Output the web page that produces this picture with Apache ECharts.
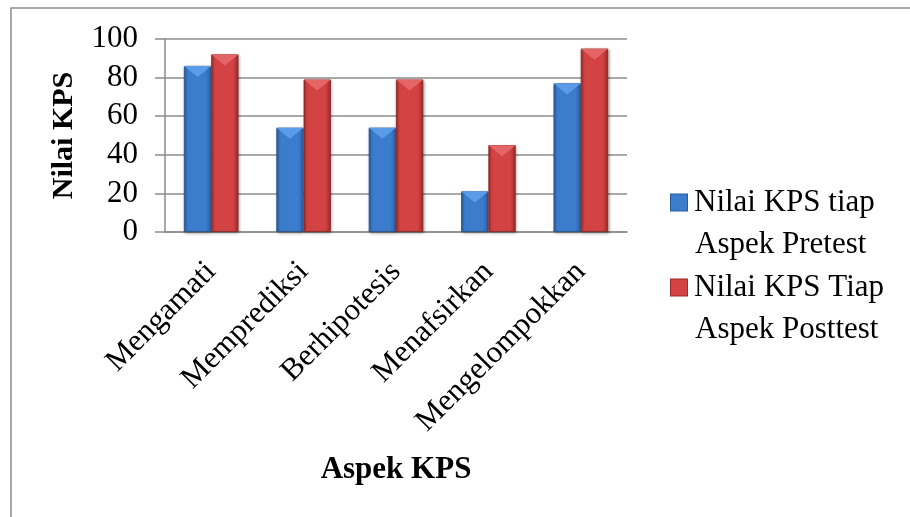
<!DOCTYPE html>
<html>
<head>
<meta charset="utf-8">
<script src="https://cdn.jsdelivr.net/npm/echarts@6/dist/echarts.min.js"></script>
<style>
  html, body { margin: 0; padding: 0; background: #fff; }
  #chart { width: 910px; height: 517px; }
</style>
</head>
<body>
<div id="chart"></div>
<script>
// Aspects of science process skills (KPS) and their scores
var categories = ['Mengamati', 'Memprediksi', 'Berhipotesis', 'Menafsirkan', 'Mengelompokkan'];
var pretestValues = [86, 54, 54, 21, 77];
var posttestValues = [92, 79, 79, 45, 95];
var seriesNames = ['Nilai KPS tiap Aspek Pretest', 'Nilai KPS Tiap Aspek Posttest'];
var yTicks = [0, 20, 40, 60, 80, 100];

var FONT = '"Liberation Serif", "Times New Roman", serif';

function bodyGradient(edgeL, mid, edgeR) {
  return new echarts.graphic.LinearGradient(0, 0, 1, 0, [
    { offset: 0, color: edgeL },
    { offset: 0.12, color: mid },
    { offset: 0.8, color: mid },
    { offset: 1, color: edgeR }
  ]);
}

var blueBody = bodyGradient('#2a5a9a', '#3b7ccd', '#2c60a6');
var redBody = bodyGradient('#9e2b2b', '#d34343', '#a02a2a');

var BAR_GAP = '0%';
var CAT_GAP = '41%';

// two-line legend entry with a square swatch beside the first line
function legendLabel(name) {
  var key = name === seriesNames[0] ? 'ib' : 'ir';
  var words = name.split(' ');
  return '{' + key + '|}{sp|}{t|' + words.slice(0, 3).join(' ') + '}\n{ind|}{t|' + words.slice(3).join(' ') + '}';
}

var chart = echarts.init(document.getElementById('chart'), null, { renderer: 'canvas' });

chart.setOption({
  animation: false,
  backgroundColor: '#ffffff',
  graphic: [{
    type: 'rect',
    shape: { x: 11, y: 8, width: 1000, height: 1000 },
    style: { fill: 'none', stroke: '#8c8c8c', lineWidth: 1.5 },
    silent: true,
    z: -10
  }],
  grid: { left: 165, right: 283, top: 39, bottom: 285, containLabel: false },
  legend: {
    orient: 'vertical',
    left: 661,
    top: 182,
    icon: 'none',
    itemWidth: 0,
    itemHeight: 0,
    itemGap: 12,
    selectedMode: false,
    data: seriesNames,
    formatter: legendLabel,
    textStyle: {
      fontFamily: FONT,
      fontSize: 31,
      color: '#000',
      rich: {
        ib: { width: 16, height: 16, backgroundColor: '#3b7ccd', borderColor: '#2a5a9a', borderWidth: 1 },
        ir: { width: 16, height: 16, backgroundColor: '#d34343', borderColor: '#9e2b2b', borderWidth: 1 },
        sp: { width: 7 },
        ind: { width: 24 },
        t: { fontFamily: FONT, fontSize: 31, color: '#000', lineHeight: 42 }
      }
    }
  },
  xAxis: {
    type: 'category',
    data: categories,
    name: 'Aspek KPS',
    nameLocation: 'middle',
    nameGap: 222,
    nameTextStyle: { fontFamily: FONT, fontSize: 31, fontWeight: 'bold', color: '#000' },
    axisLine: { show: true, lineStyle: { color: '#8c8c8c', width: 1.5 } },
    axisTick: { show: false },
    axisLabel: {
      rotate: 45,
      margin: 35,
      interval: 0,
      fontFamily: FONT,
      fontSize: 31,
      color: '#000'
    }
  },
  yAxis: {
    type: 'value',
    min: 0,
    max: 100,
    interval: 20,
    name: 'Nilai KPS',
    nameLocation: 'middle',
    nameGap: 86,
    nameRotate: 90,
    nameTextStyle: { fontFamily: FONT, fontSize: 30, fontWeight: 'bold', color: '#000' },
    axisLine: { show: true, lineStyle: { color: '#8c8c8c', width: 1.5 } },
    axisTick: { show: true, inside: false, length: 10, lineStyle: { color: '#8c8c8c', width: 1.5 } },
    axisLabel: {
      margin: 27,
      fontFamily: FONT,
      fontSize: 31,
      color: '#000',
      formatter: function (v) { return yTicks.indexOf(v) >= 0 ? String(v) : ''; }
    },
    splitLine: { show: true, lineStyle: { color: '#8c8c8c', width: 1.5 } }
  },
  series: [
    {
      name: seriesNames[0],
      type: 'bar',
      data: pretestValues,
      barGap: BAR_GAP,
      barCategoryGap: CAT_GAP,
      z: 2,
      itemStyle: {
        color: blueBody,
        borderColor: '#24508a',
        borderWidth: 0.8,
        shadowColor: 'rgba(0,0,0,0.35)',
        shadowBlur: 3,
        shadowOffsetX: 1,
        shadowOffsetY: 1
      }
    },
    {
      name: seriesNames[1],
      type: 'bar',
      data: posttestValues,
      barGap: BAR_GAP,
      barCategoryGap: CAT_GAP,
      z: 2,
      itemStyle: {
        color: redBody,
        borderColor: '#8a2222',
        borderWidth: 0.8,
        shadowColor: 'rgba(0,0,0,0.35)',
        shadowBlur: 3,
        shadowOffsetX: 1,
        shadowOffsetY: 1
      }
    },
    // bevelled caps on top of each bar
    {
      name: seriesNames[0],
      type: 'pictorialBar',
      data: pretestValues,
      barGap: BAR_GAP,
      barCategoryGap: CAT_GAP,
      symbol: 'path://M0,0L2,0L1,1Z',
      symbolSize: ['100%', 11],
      symbolPosition: 'end',
      symbolKeepAspect: false,
      silent: true,
      z: 5,
      itemStyle: { color: '#5d9eea', opacity: 0.95 }
    },
    {
      name: seriesNames[1],
      type: 'pictorialBar',
      data: posttestValues,
      barGap: BAR_GAP,
      barCategoryGap: CAT_GAP,
      symbol: 'path://M0,0L2,0L1,1Z',
      symbolSize: ['100%', 11],
      symbolPosition: 'end',
      symbolKeepAspect: false,
      silent: true,
      z: 5,
      itemStyle: { color: '#e56767', opacity: 0.95 }
    }
  ]
});
</script>
</body>
</html>
